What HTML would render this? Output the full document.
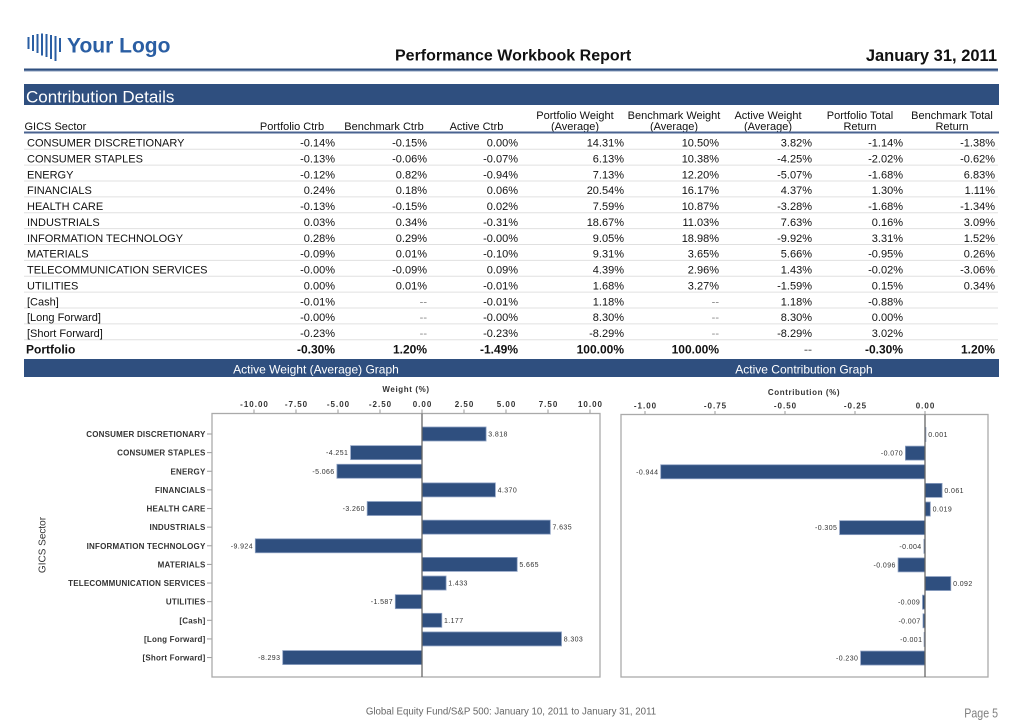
<!DOCTYPE html>
<html><head><meta charset="utf-8"><style>
html,body{margin:0;padding:0;background:#fff;}
body{width:1024px;height:724px;overflow:hidden;position:relative;}
svg{position:absolute;left:0;top:0;}
</style></head><body>
<svg width="1024" height="724" viewBox="0 0 1024 724" xmlns="http://www.w3.org/2000/svg" font-family="'Liberation Sans', Arial, sans-serif">
<!-- Logo -->
<g fill="#2a5ea3">
<rect x="27.5" y="37" width="2" height="12"/>
<rect x="32" y="35" width="2" height="16"/>
<rect x="36.5" y="34" width="2" height="19"/>
<rect x="41" y="33.5" width="2" height="22"/>
<rect x="45.5" y="34" width="2" height="23"/>
<rect x="50" y="35" width="2" height="24"/>
<rect x="54.5" y="36" width="2" height="25"/>
<rect x="59" y="38" width="2" height="14"/>
</g>
<text x="67" y="52.5" font-size="21" font-weight="bold" fill="#2a5ea3">Your Logo</text>
<text x="395" y="60.7" font-size="16" font-weight="bold" fill="#111">Performance Workbook Report</text>
<text x="997" y="61" font-size="16.5" font-weight="bold" fill="#111" text-anchor="end">January 31, 2011</text>
<rect x="24" y="68.5" width="974" height="2" fill="#2f4f7f"/>
<rect x="24" y="70.5" width="974" height="1" fill="#8a9cbd"/>

<!-- Contribution Details band -->
<rect x="24" y="84" width="975" height="21" fill="#2f4f7f"/>
<text x="26" y="102.7" font-size="17" fill="#fff">Contribution Details</text>

<!-- Table header -->
<g font-size="11" fill="#111">
<text x="24.5" y="130">GICS Sector</text>
<g text-anchor="middle">
<text x="292" y="130">Portfolio Ctrb</text>
<text x="384" y="130">Benchmark Ctrb</text>
<text x="476.5" y="130">Active Ctrb</text>
<text x="575" y="119">Portfolio Weight</text><text x="575" y="130">(Average)</text>
<text x="674" y="119">Benchmark Weight</text><text x="674" y="130">(Average)</text>
<text x="768" y="119">Active Weight</text><text x="768" y="130">(Average)</text>
<text x="860" y="119">Portfolio Total</text><text x="860" y="130">Return</text>
<text x="952" y="119">Benchmark Total</text><text x="952" y="130">Return</text>
</g>
</g>
<rect x="24" y="131.5" width="975" height="2" fill="#4a6390"/>

<!-- row separators -->
<g stroke="#e0e0e0" stroke-width="1">
<line x1="24" x2="998" y1="149.3" y2="149.3"/>
<line x1="24" x2="998" y1="165.17" y2="165.17"/>
<line x1="24" x2="998" y1="181.04" y2="181.04"/>
<line x1="24" x2="998" y1="196.91" y2="196.91"/>
<line x1="24" x2="998" y1="212.78" y2="212.78"/>
<line x1="24" x2="998" y1="228.65" y2="228.65"/>
<line x1="24" x2="998" y1="244.52" y2="244.52"/>
<line x1="24" x2="998" y1="260.39" y2="260.39"/>
<line x1="24" x2="998" y1="276.26" y2="276.26"/>
<line x1="24" x2="998" y1="292.13" y2="292.13"/>
<line x1="24" x2="998" y1="308" y2="308"/>
<line x1="24" x2="998" y1="323.87" y2="323.87"/>
<line x1="24" x2="998" y1="339.74" y2="339.74"/>
</g>

<!-- Table body -->
<g font-size="11" fill="#111">
<text x="27" y="146.6">CONSUMER DISCRETIONARY</text>
<text x="27" y="162.47">CONSUMER STAPLES</text>
<text x="27" y="178.34">ENERGY</text>
<text x="27" y="194.21">FINANCIALS</text>
<text x="27" y="210.08">HEALTH CARE</text>
<text x="27" y="225.95">INDUSTRIALS</text>
<text x="27" y="241.82">INFORMATION TECHNOLOGY</text>
<text x="27" y="257.69">MATERIALS</text>
<text x="27" y="273.56">TELECOMMUNICATION SERVICES</text>
<text x="27" y="289.43">UTILITIES</text>
<text x="27" y="305.3">[Cash]</text>
<text x="27" y="321.17">[Long Forward]</text>
<text x="27" y="337.04">[Short Forward]</text>
<g text-anchor="end">
<text x="335" y="146.6">-0.14%</text><text x="427" y="146.6">-0.15%</text><text x="518" y="146.6">0.00%</text><text x="624" y="146.6">14.31%</text><text x="719" y="146.6">10.50%</text><text x="812" y="146.6">3.82%</text><text x="903" y="146.6">-1.14%</text><text x="995" y="146.6">-1.38%</text>
<text x="335" y="162.47">-0.13%</text><text x="427" y="162.47">-0.06%</text><text x="518" y="162.47">-0.07%</text><text x="624" y="162.47">6.13%</text><text x="719" y="162.47">10.38%</text><text x="812" y="162.47">-4.25%</text><text x="903" y="162.47">-2.02%</text><text x="995" y="162.47">-0.62%</text>
<text x="335" y="178.34">-0.12%</text><text x="427" y="178.34">0.82%</text><text x="518" y="178.34">-0.94%</text><text x="624" y="178.34">7.13%</text><text x="719" y="178.34">12.20%</text><text x="812" y="178.34">-5.07%</text><text x="903" y="178.34">-1.68%</text><text x="995" y="178.34">6.83%</text>
<text x="335" y="194.21">0.24%</text><text x="427" y="194.21">0.18%</text><text x="518" y="194.21">0.06%</text><text x="624" y="194.21">20.54%</text><text x="719" y="194.21">16.17%</text><text x="812" y="194.21">4.37%</text><text x="903" y="194.21">1.30%</text><text x="995" y="194.21">1.11%</text>
<text x="335" y="210.08">-0.13%</text><text x="427" y="210.08">-0.15%</text><text x="518" y="210.08">0.02%</text><text x="624" y="210.08">7.59%</text><text x="719" y="210.08">10.87%</text><text x="812" y="210.08">-3.28%</text><text x="903" y="210.08">-1.68%</text><text x="995" y="210.08">-1.34%</text>
<text x="335" y="225.95">0.03%</text><text x="427" y="225.95">0.34%</text><text x="518" y="225.95">-0.31%</text><text x="624" y="225.95">18.67%</text><text x="719" y="225.95">11.03%</text><text x="812" y="225.95">7.63%</text><text x="903" y="225.95">0.16%</text><text x="995" y="225.95">3.09%</text>
<text x="335" y="241.82">0.28%</text><text x="427" y="241.82">0.29%</text><text x="518" y="241.82">-0.00%</text><text x="624" y="241.82">9.05%</text><text x="719" y="241.82">18.98%</text><text x="812" y="241.82">-9.92%</text><text x="903" y="241.82">3.31%</text><text x="995" y="241.82">1.52%</text>
<text x="335" y="257.69">-0.09%</text><text x="427" y="257.69">0.01%</text><text x="518" y="257.69">-0.10%</text><text x="624" y="257.69">9.31%</text><text x="719" y="257.69">3.65%</text><text x="812" y="257.69">5.66%</text><text x="903" y="257.69">-0.95%</text><text x="995" y="257.69">0.26%</text>
<text x="335" y="273.56">-0.00%</text><text x="427" y="273.56">-0.09%</text><text x="518" y="273.56">0.09%</text><text x="624" y="273.56">4.39%</text><text x="719" y="273.56">2.96%</text><text x="812" y="273.56">1.43%</text><text x="903" y="273.56">-0.02%</text><text x="995" y="273.56">-3.06%</text>
<text x="335" y="289.43">0.00%</text><text x="427" y="289.43">0.01%</text><text x="518" y="289.43">-0.01%</text><text x="624" y="289.43">1.68%</text><text x="719" y="289.43">3.27%</text><text x="812" y="289.43">-1.59%</text><text x="903" y="289.43">0.15%</text><text x="995" y="289.43">0.34%</text>
<text x="335" y="305.3">-0.01%</text><text x="427" y="305.3" fill="#888">--</text><text x="518" y="305.3">-0.01%</text><text x="624" y="305.3">1.18%</text><text x="719" y="305.3" fill="#888">--</text><text x="812" y="305.3">1.18%</text><text x="903" y="305.3">-0.88%</text>
<text x="335" y="321.17">-0.00%</text><text x="427" y="321.17" fill="#888">--</text><text x="518" y="321.17">-0.00%</text><text x="624" y="321.17">8.30%</text><text x="719" y="321.17" fill="#888">--</text><text x="812" y="321.17">8.30%</text><text x="903" y="321.17">0.00%</text>
<text x="335" y="337.04">-0.23%</text><text x="427" y="337.04" fill="#888">--</text><text x="518" y="337.04">-0.23%</text><text x="624" y="337.04">-8.29%</text><text x="719" y="337.04" fill="#888">--</text><text x="812" y="337.04">-8.29%</text><text x="903" y="337.04">3.02%</text>
</g>
</g>
<!-- Portfolio row -->
<g font-size="12" font-weight="bold" fill="#111">
<text x="26" y="353.3">Portfolio</text>
<g text-anchor="end">
<text x="335" y="353.3">-0.30%</text><text x="427" y="353.3">1.20%</text><text x="518" y="353.3">-1.49%</text><text x="624" y="353.3">100.00%</text><text x="719" y="353.3">100.00%</text><text x="812" y="353.3" fill="#888">--</text><text x="903" y="353.3">-0.30%</text><text x="995" y="353.3">1.20%</text>
</g>
</g>

<!-- Graph band -->
<rect x="24" y="359" width="975" height="18" fill="#2f4f7f"/>
<text x="316" y="373.6" font-size="12" fill="#fff" text-anchor="middle">Active Weight (Average) Graph</text>
<text x="804" y="373.6" font-size="12" fill="#fff" text-anchor="middle">Active Contribution Graph</text>

<!-- ===== Left chart ===== -->
<text x="406" y="392" font-size="8" font-weight="bold" fill="#333" text-anchor="middle" letter-spacing="0.6">Weight (%)</text>
<g font-size="8" font-weight="bold" fill="#333" text-anchor="middle" letter-spacing="1">
<text x="254.5" y="406.8">-10.00</text>
<text x="296.5" y="406.8">-7.50</text>
<text x="338.5" y="406.8">-5.00</text>
<text x="380.5" y="406.8">-2.50</text>
<text x="422.5" y="406.8">0.00</text>
<text x="464.5" y="406.8">2.50</text>
<text x="506.5" y="406.8">5.00</text>
<text x="548.5" y="406.8">7.50</text>
<text x="590.5" y="406.8">10.00</text>
</g>
<g stroke="#999" stroke-width="1">
<line x1="254" x2="254" y1="409.5" y2="413.5"/>
<line x1="296" x2="296" y1="409.5" y2="413.5"/>
<line x1="338" x2="338" y1="409.5" y2="413.5"/>
<line x1="380" x2="380" y1="409.5" y2="413.5"/>
<line x1="422" x2="422" y1="409.5" y2="413.5"/>
<line x1="464" x2="464" y1="409.5" y2="413.5"/>
<line x1="506" x2="506" y1="409.5" y2="413.5"/>
<line x1="548" x2="548" y1="409.5" y2="413.5"/>
<line x1="590" x2="590" y1="409.5" y2="413.5"/>
</g>
<rect x="212" y="413.5" width="388" height="263.5" fill="none" stroke="#aaa" stroke-width="1.3"/>
<g stroke="#999" stroke-width="1">
<line x1="207" x2="211.5" y1="434" y2="434"/>
<line x1="207" x2="211.5" y1="452.63" y2="452.63"/>
<line x1="207" x2="211.5" y1="471.26" y2="471.26"/>
<line x1="207" x2="211.5" y1="489.89" y2="489.89"/>
<line x1="207" x2="211.5" y1="508.52" y2="508.52"/>
<line x1="207" x2="211.5" y1="527.15" y2="527.15"/>
<line x1="207" x2="211.5" y1="545.78" y2="545.78"/>
<line x1="207" x2="211.5" y1="564.41" y2="564.41"/>
<line x1="207" x2="211.5" y1="583.04" y2="583.04"/>
<line x1="207" x2="211.5" y1="601.67" y2="601.67"/>
<line x1="207" x2="211.5" y1="620.3" y2="620.3"/>
<line x1="207" x2="211.5" y1="638.93" y2="638.93"/>
<line x1="207" x2="211.5" y1="657.56" y2="657.56"/>
</g>
<g font-size="8" font-weight="bold" fill="#333" text-anchor="end" letter-spacing="0.2">
<text x="205.5" y="437">CONSUMER DISCRETIONARY</text>
<text x="205.5" y="455.63">CONSUMER STAPLES</text>
<text x="205.5" y="474.26">ENERGY</text>
<text x="205.5" y="492.89">FINANCIALS</text>
<text x="205.5" y="511.52">HEALTH CARE</text>
<text x="205.5" y="530.15">INDUSTRIALS</text>
<text x="205.5" y="548.78">INFORMATION TECHNOLOGY</text>
<text x="205.5" y="567.41">MATERIALS</text>
<text x="205.5" y="586.04">TELECOMMUNICATION SERVICES</text>
<text x="205.5" y="604.67">UTILITIES</text>
<text x="205.5" y="623.3">[Cash]</text>
<text x="205.5" y="641.93">[Long Forward]</text>
<text x="205.5" y="660.56">[Short Forward]</text>
</g>
<text transform="translate(45.5,545) rotate(-90)" font-size="10" fill="#333" text-anchor="middle">GICS Sector</text>
<g fill="#2f4f7f" stroke="#8da0c2" stroke-width="0.8">
<rect x="422" y="427" width="64.1" height="14"/>
<rect x="350.6" y="445.63" width="71.4" height="14"/>
<rect x="336.9" y="464.26" width="85.1" height="14"/>
<rect x="422" y="482.89" width="73.4" height="14"/>
<rect x="367.2" y="501.52" width="54.8" height="14"/>
<rect x="422" y="520.15" width="128.3" height="14"/>
<rect x="255.3" y="538.78" width="166.7" height="14"/>
<rect x="422" y="557.41" width="95.2" height="14"/>
<rect x="422" y="576.04" width="24.1" height="14"/>
<rect x="395.3" y="594.67" width="26.7" height="14"/>
<rect x="422" y="613.3" width="19.8" height="14"/>
<rect x="422" y="631.93" width="139.5" height="14"/>
<rect x="282.7" y="650.56" width="139.3" height="14"/>
</g>
<line x1="422" x2="422" y1="413.5" y2="677" stroke="#666" stroke-width="1.3"/>
<g font-size="7" fill="#333" letter-spacing="0.4">
<text x="488.3" y="436.5">3.818</text>
<text x="348.3" y="455.13" text-anchor="end">-4.251</text>
<text x="334.6" y="473.76" text-anchor="end">-5.066</text>
<text x="497.6" y="492.39">4.370</text>
<text x="364.9" y="511.02" text-anchor="end">-3.260</text>
<text x="552.5" y="529.65">7.635</text>
<text x="253" y="548.28" text-anchor="end">-9.924</text>
<text x="519.4" y="566.91">5.665</text>
<text x="448.3" y="585.54">1.433</text>
<text x="393" y="604.17" text-anchor="end">-1.587</text>
<text x="444" y="622.8">1.177</text>
<text x="563.7" y="641.43">8.303</text>
<text x="280.4" y="660.06" text-anchor="end">-8.293</text>
</g>

<!-- ===== Right chart ===== -->
<text x="804" y="395" font-size="8" font-weight="bold" fill="#333" text-anchor="middle" letter-spacing="0.6">Contribution (%)</text>
<g font-size="8" font-weight="bold" fill="#333" text-anchor="middle" letter-spacing="1">
<text x="645.5" y="408.7">-1.00</text>
<text x="715.5" y="408.7">-0.75</text>
<text x="785.5" y="408.7">-0.50</text>
<text x="855.5" y="408.7">-0.25</text>
<text x="925.5" y="408.7">0.00</text>
</g>
<g stroke="#999" stroke-width="1">
<line x1="645" x2="645" y1="411" y2="414.5"/>
<line x1="715" x2="715" y1="411" y2="414.5"/>
<line x1="785" x2="785" y1="411" y2="414.5"/>
<line x1="855" x2="855" y1="411" y2="414.5"/>
<line x1="925" x2="925" y1="411" y2="414.5"/>
</g>
<rect x="621" y="414.5" width="367" height="262.5" fill="none" stroke="#aaa" stroke-width="1.3"/>
<g fill="#2f4f7f" stroke="#8da0c2" stroke-width="0.8">
<rect x="925" y="427.5" width="0.9" height="14"/>
<rect x="905.4" y="446.13" width="19.6" height="14"/>
<rect x="660.7" y="464.76" width="264.3" height="14"/>
<rect x="925" y="483.39" width="17.1" height="14"/>
<rect x="925" y="502.02" width="5.3" height="14"/>
<rect x="839.6" y="520.65" width="85.4" height="14"/>
<rect x="923.9" y="539.28" width="1.1" height="14"/>
<rect x="898.1" y="557.91" width="26.9" height="14"/>
<rect x="925" y="576.54" width="25.8" height="14"/>
<rect x="922.5" y="595.17" width="2.5" height="14"/>
<rect x="923" y="613.8" width="2" height="14"/>
<rect x="924.1" y="632.43" width="0.9" height="14"/>
<rect x="860.6" y="651.06" width="64.4" height="14"/>
</g>
<line x1="925" x2="925" y1="414.5" y2="677" stroke="#666" stroke-width="1.3"/>
<g font-size="7" fill="#333" letter-spacing="0.4">
<text x="928.3" y="437">0.001</text>
<text x="903.1" y="455.63" text-anchor="end">-0.070</text>
<text x="658.4" y="474.26" text-anchor="end">-0.944</text>
<text x="944.4" y="492.89">0.061</text>
<text x="932.6" y="511.52">0.019</text>
<text x="837.3" y="530.15" text-anchor="end">-0.305</text>
<text x="921.6" y="548.78" text-anchor="end">-0.004</text>
<text x="895.8" y="567.41" text-anchor="end">-0.096</text>
<text x="953.1" y="586.04">0.092</text>
<text x="920.2" y="604.67" text-anchor="end">-0.009</text>
<text x="920.7" y="623.3" text-anchor="end">-0.007</text>
<text x="922.4" y="641.93" text-anchor="end">-0.001</text>
<text x="858.3" y="660.56" text-anchor="end">-0.230</text>
</g>

<!-- Footer -->
<text x="511" y="714.5" font-size="9.7" fill="#666" text-anchor="middle">Global Equity Fund/S&amp;P 500: January 10, 2011 to January 31, 2011</text>
<text transform="translate(998,717.5) scale(0.82,1)" font-size="13" fill="#808080" text-anchor="end">Page 5</text>
</svg>
</body></html>
